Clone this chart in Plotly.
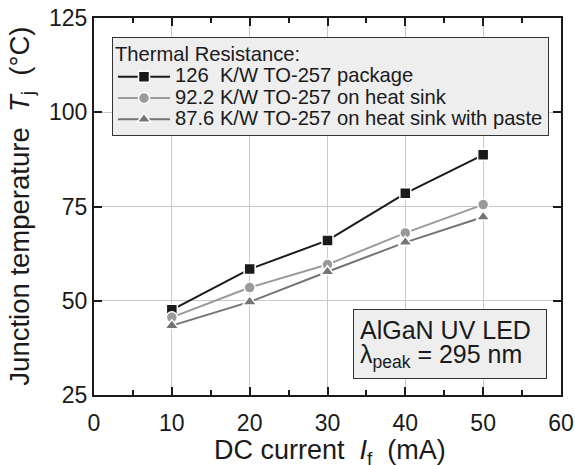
import plotly.graph_objects as go

current = [10, 20, 30, 40, 50]
t_pkg = [47.6, 58.4, 66.0, 78.5, 88.7]
t_sink = [45.6, 53.5, 59.6, 68.0, 75.5]
t_paste = [43.4, 49.7, 57.7, 65.5, 72.2]
names = ["126\u00a0 K/W TO-257 package", "92.2 K/W TO-257 on heat sink",
         "87.6 K/W TO-257 on heat sink with paste"]
legend_title = "Thermal Resistance:"
x_title = "DC current\u00a0 <i>I</i><sub>f</sub>\u00a0 (mA)"
y_title = "Junction temperature\u00a0 <i>T</i><sub>j</sub>\u00a0 (°C)"
note_lines = ["AlGaN UV LED", "λ<sub>peak</sub> = 295 nm"]

FONT = "Liberation Sans, Arial, Helvetica, sans-serif"


def big(s, px):
    return f'<span style="font-size:{px}px">{s}</span>'


fig = go.Figure()
fig.add_trace(go.Scatter(x=current, y=t_pkg, name=big(names[0], 20.2), mode="lines+markers",
                         line=dict(color="#1a1a1a", width=2),
                         marker=dict(symbol="square", size=11, color="#1a1a1a",
                                     line=dict(color="white", width=1.5))))
fig.add_trace(go.Scatter(x=current, y=t_sink, name=big(names[1], 20.2), mode="lines+markers",
                         line=dict(color="#9a9a9a", width=2),
                         marker=dict(symbol="circle", size=11, color="#9a9a9a",
                                     line=dict(color="white", width=1.5))))
fig.add_trace(go.Scatter(x=current, y=t_paste, name=big(names[2], 20.2), mode="lines+markers",
                         line=dict(color="#747474", width=2),
                         marker=dict(symbol="triangle-up", size=12, color="#747474",
                                     line=dict(color="white", width=1.5))))

fig.update_layout(
    width=575, height=465,
    margin=dict(l=94, r=14, t=18, b=70),
    paper_bgcolor="white", plot_bgcolor="white",
    font=dict(family=FONT, color="#1a1a1a"),
    showlegend=True,
    legend=dict(
        x=0.0385, y=0.95, xanchor="left", yanchor="top",
        bgcolor="#eeeeef", bordercolor="#333333", borderwidth=1,
        font=dict(size=14, family=FONT, color="#1a1a1a"),
        title=dict(text=big(legend_title, 20.2), font=dict(size=18, family=FONT)),
        tracegroupgap=0, itemwidth=52,
    ),
    xaxis=dict(
        range=[0, 60], dtick=10, tick0=0, automargin=False,
        showgrid=True, gridcolor="#c8c8c8", gridwidth=1,
        showline=True, linecolor="#1a1a1a", linewidth=2, mirror="ticks",
        ticks="inside", ticklen=8, tickwidth=2, tickcolor="#1a1a1a",
        minor=dict(dtick=5, ticks="inside", ticklen=5, tickwidth=1.5, tickcolor="#1a1a1a", showgrid=False),
        tickfont=dict(size=23, family=FONT), ticklabelstandoff=6,
        ticklabeloverflow="allow",
        zeroline=False,
    ),
    yaxis=dict(
        range=[25, 125], dtick=25, tick0=25, automargin=False,
        showgrid=True, gridcolor="#c8c8c8", gridwidth=1,
        showline=True, linecolor="#1a1a1a", linewidth=2, mirror="ticks",
        ticks="inside", ticklen=8, tickwidth=2, tickcolor="#1a1a1a",
        tickfont=dict(size=23, family=FONT), ticklabeloverflow="allow",
        zeroline=False,
    ),
)

# axis titles as text annotations, placed where the reference has them
fig.add_annotation(
    xref="paper", yref="paper", x=0.505, y=-0.15, xanchor="center", yanchor="middle",
    text=x_title, showarrow=False, font=dict(size=27, family=FONT, color="#1a1a1a"),
)
fig.add_annotation(
    xref="paper", yref="paper", x=-0.156, y=0.5, xanchor="center", yanchor="middle",
    text=y_title, textangle=-90,
    showarrow=False, font=dict(size=27.5, family=FONT, color="#1a1a1a"),
)

fig.add_annotation(
    xref="paper", yref="paper", x=0.97, y=0.043, xanchor="right", yanchor="bottom",
    text=big(note_lines[0], 25) + "<br>" + big(note_lines[1], 25),
    showarrow=False, align="left", width=180,
    font=dict(size=18.5, family=FONT, color="#1a1a1a"),
    bgcolor="#eeeeef", bordercolor="#333333", borderwidth=1, borderpad=6,
)

fig.write_html("out.html", config={"displayModeBar": False},
               post_script="document.body.style.margin='0';")
